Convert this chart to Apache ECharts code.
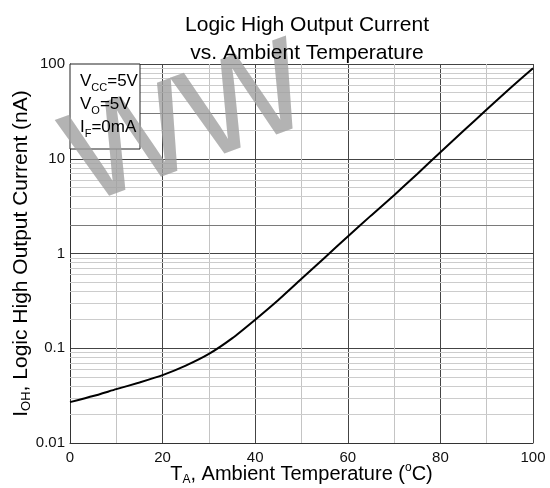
<!DOCTYPE html>
<html><head><meta charset="utf-8">
<script src="https://cdn.jsdelivr.net/npm/echarts@6/dist/echarts.min.js"></script>
<style>html,body{margin:0;padding:0;background:#fff}#c{width:550px;height:488px}</style>
</head><body><div id="c"></div>
<script>
// Data
const temps = [0, 5, 10, 15, 20, 25, 30, 35, 40, 45, 50, 55, 60, 65, 70, 75, 80, 85, 90, 95, 100];
const ioh   = [0.027, 0.0313, 0.037, 0.0435, 0.052, 0.0655, 0.0871, 0.127, 0.20, 0.323, 0.54, 0.904, 1.51, 2.51, 4.12, 6.92, 11.7, 19.7, 33.1, 55.0, 90.2];
const xTickValues = [0, 20, 40, 60, 80, 100];
const yDecades = [0.01, 0.1, 1, 10];
const minorMultipliers = [2, 3, 4, 5, 6, 7, 8, 9];
const darkerMinor = [2, 30];

const FONT = 'Liberation Sans, Arial, sans-serif';

const minorLines = [];
yDecades.forEach(d => minorMultipliers.forEach(m => {
  const v = Number((d * m).toPrecision(3));
  minorLines.push({ yAxis: v, lineStyle: { color: darkerMinor.includes(v) ? '#7a7a7a' : '#cccccc', width: 1, type: 'solid' } });
}));

const chart = echarts.init(document.getElementById('c'), null, { renderer: 'canvas' });
chart.setOption({
  animation: false,
  backgroundColor: '#fff',
  title: {
    text: 'Logic High Output Current\nvs. Ambient Temperature',
    left: 302, top: 6, textAlign: 'center',
    textStyle: { fontFamily: FONT, fontSize: 21, fontWeight: 'normal', color: '#000', lineHeight: 28 }
  },
  grid: { left: 70, right: 17, top: 64, bottom: 45, outerBoundsMode: 'none', containLabel: false },
  xAxis: {
    type: 'value', min: 0, max: 100, interval: 20,
    axisLine: { show: true, lineStyle: { color: '#333', width: 1 } },
    axisTick: { show: false },
    minorTick: { show: false, splitNumber: 2 },
    minorSplitLine: { show: true, lineStyle: { color: '#c4c4c4', width: 1 } },
    splitLine: { show: true, lineStyle: { color: '#444', width: 1 } },
    axisLabel: { color: '#111', fontFamily: FONT, fontSize: 15, margin: 7,
      formatter: v => xTickValues.includes(v) ? String(v) : '' },
    name: '{t|T}{s|A}{t|, Ambient Temperature (}{u|o}{t|C)}',
    nameLocation: 'middle', nameGap: 19, nameMoveOverlap: false,
    nameTextStyle: {
      rich: {
        t: { fontFamily: FONT, fontSize: 20, color: '#000', lineHeight: 24 },
        s: { fontFamily: FONT, fontSize: 12, color: '#000', lineHeight: 12, verticalAlign: 'bottom' },
        u: { fontFamily: FONT, fontSize: 12, color: '#000', lineHeight: 12, verticalAlign: 'top' }
      }
    }
  },
  yAxis: {
    type: 'log', logBase: 10, min: 0.01, max: 100,
    axisLine: { show: true, lineStyle: { color: '#333', width: 1 } },
    axisTick: { show: false },
    splitLine: { show: true, lineStyle: { color: '#444', width: 1 } },
    axisLabel: { color: '#111', fontFamily: FONT, fontSize: 15, margin: 5 },
    name: '{t|I}{s|OH}{t|, Logic High Output Current (nA)}',
    nameLocation: 'middle', nameGap: 37, nameRotate: 90, nameMoveOverlap: false,
    nameTextStyle: {
      rich: {
        t: { fontFamily: FONT, fontSize: 21, color: '#000', lineHeight: 24 },
        s: { fontFamily: FONT, fontSize: 13, color: '#000', lineHeight: 12, verticalAlign: 'bottom' }
      }
    }
  },
  graphic: [
    { type: 'rect', z: 2, shape: { x: 70, y: 64, width: 70, height: 85 },
      style: { fill: '#fff', stroke: '#222', lineWidth: 1 } },
    { type: 'text', z: 3, x: 185, y: 118, rotation: 0.35, silent: true,
      style: { text: 'ww', fontFamily: FONT, fontSize: 170, fill: 'rgba(160,160,160,0.8)', align: 'center', verticalAlign: 'middle' } },
    { type: 'text', z: 4, x: 80, y: 70,
      style: {
        text: '{t|V}{s|CC}{t|=5V}\n{t|V}{s|O}{t|=5V}\n{t|I}{s|F}{t|=0mA}',
        rich: {
          t: { fontFamily: FONT, fontSize: 17, fill: '#000', lineHeight: 23 },
          s: { fontFamily: FONT, fontSize: 11, fill: '#000', lineHeight: 11, verticalAlign: 'bottom' }
        }
      } }
  ],
  series: [{
    type: 'line',
    data: temps.map((t, i) => [t, ioh[i]]),
    smooth: 0.2, showSymbol: false, symbol: 'none',
    lineStyle: { color: '#000', width: 2 },
    z: 5,
    markLine: {
      silent: true, symbol: ['none', 'none'], label: { show: false },
      lineStyle: { type: 'solid', width: 1 },
      data: minorLines, z: 1
    }
  }]
});
</script>
</body></html>
